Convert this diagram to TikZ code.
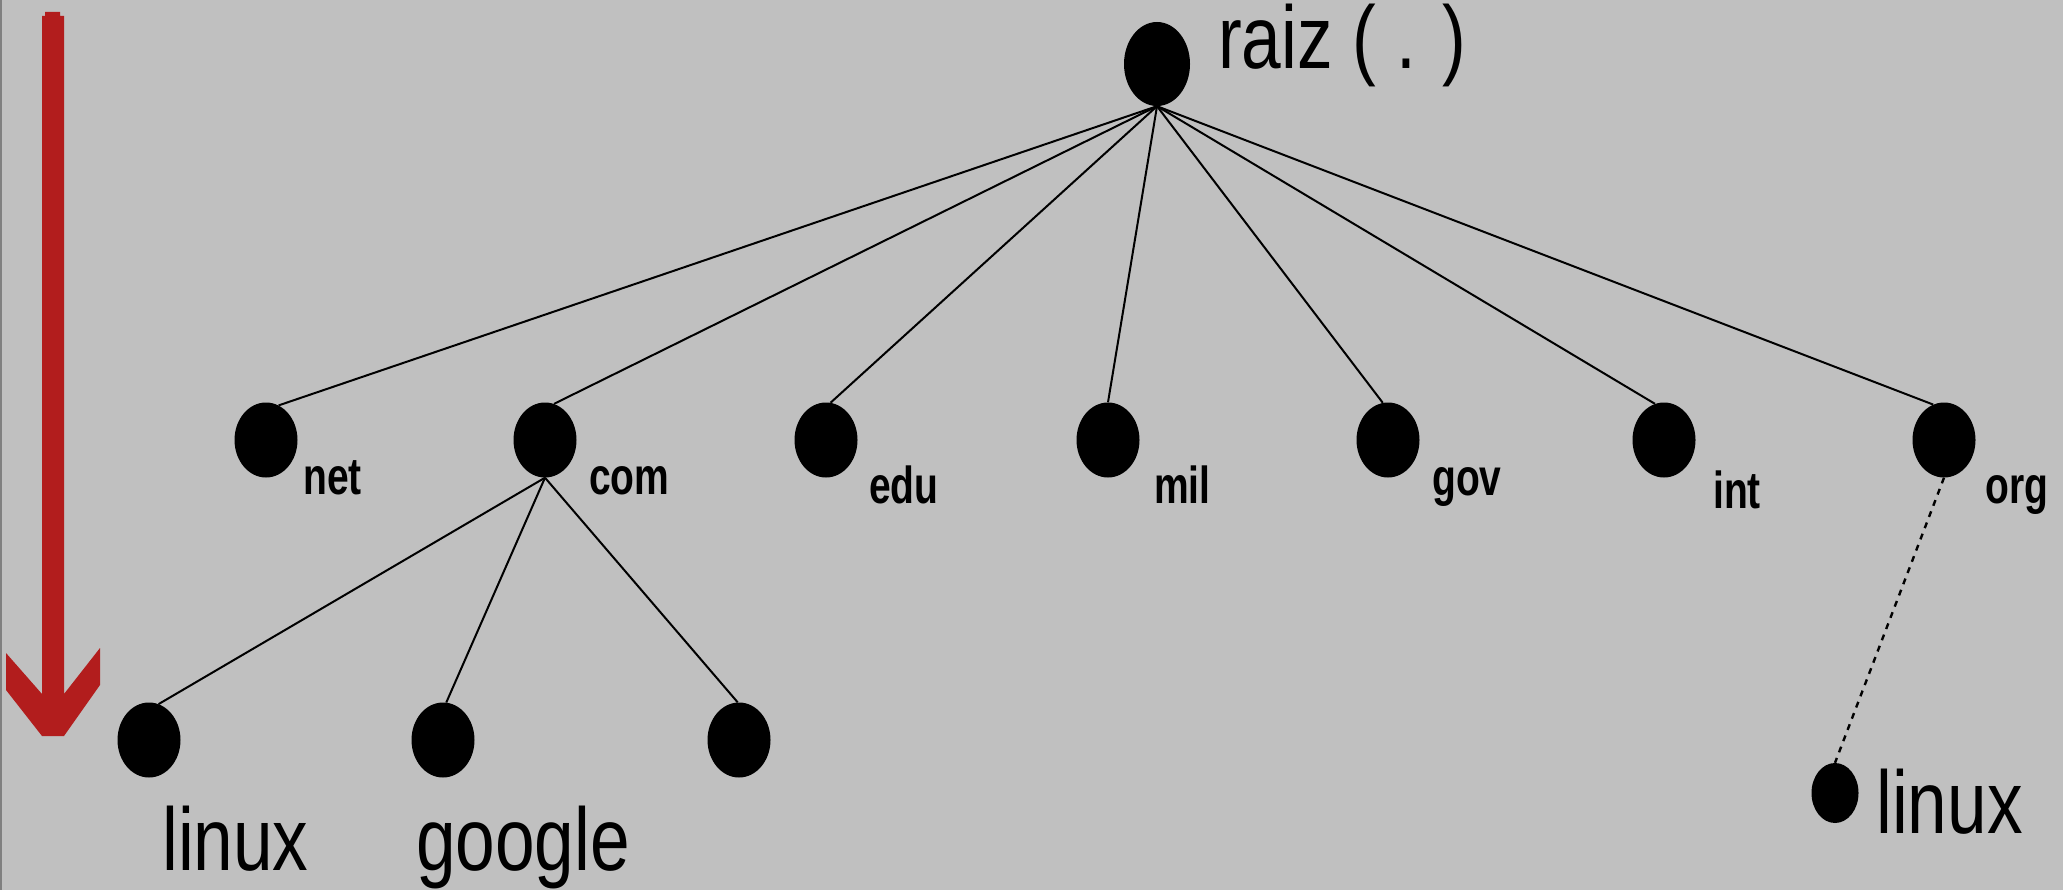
\documentclass[tikz,border=0pt]{standalone}
\usepackage{fontspec}
\setmainfont{Liberation Sans}
\usepackage{graphicx}
\usetikzlibrary{shapes.geometric}
\definecolor{bg}{RGB}{192,192,192}
\definecolor{edgegrey}{RGB}{128,128,128}
\definecolor{arrowred}{RGB}{178,29,29}
\tikzset{
  dot/.style={ellipse, fill=black, inner sep=0pt, minimum width=63pt, minimum height=75pt},
  smalldot/.style={dot, minimum width=47pt, minimum height=60pt},
  rootdot/.style={dot, minimum width=66pt, minimum height=84pt},
  biglabel/.style={anchor=base west, inner sep=0pt, font=\fontsize{89}{100}\selectfont},
  smalllabel/.style={anchor=base west, inner sep=0pt, font=\fontsize{52}{60}\selectfont\bfseries},
  link/.style={line width=2pt},
  dottedlink/.style={line width=2.4pt, dash pattern=on 6pt off 6pt},
}
\newcommand{\bigtxt}[1]{\scalebox{0.8}[1]{#1}}
\newcommand{\smalltxt}[1]{\scalebox{0.75}[1]{#1}}
\begin{document}
\begin{tikzpicture}[x=1pt,y=-1pt]
\fill[bg] (0,0) rectangle (2063,890);
\useasboundingbox (0,0) rectangle (2063,890);
\fill[edgegrey] (0,0) rectangle (2,890);
% red arrow
\fill[arrowred] (45,12) -- (60,12) -- (60,16) -- (64,16) -- (64,694) -- (100,648) -- (100,685) -- (64,736) -- (42,736) -- (6,690) -- (6,653) -- (42,694) -- (42,16) -- (45,16) -- cycle;
% nodes
\node[rootdot] (root) at (1157,64) {};
\node[dot] (net) at (266,440) {};
\node[dot] (com) at (545,440) {};
\node[dot] (edu) at (826,440) {};
\node[dot] (mil) at (1108,440) {};
\node[dot] (gov) at (1388,440) {};
\node[dot] (int) at (1664,440) {};
\node[dot] (org) at (1944,440) {};
\node[dot] (linuxA) at (149,740) {};
\node[dot] (google) at (443,740) {};
\node[dot] (third) at (739,740) {};
\node[smalldot] (linuxB) at (1835,793) {};
% labels
\node[biglabel] (raizlbl) at (1218,69) {\bigtxt{raiz ( . )}};
\node[smalllabel] (netlbl) at (303,494) {\smalltxt{net}};
\node[smalllabel] (comlbl) at (589,494) {\smalltxt{com}};
\node[smalllabel] (edulbl) at (869,503) {\smalltxt{edu}};
\node[smalllabel] (millbl) at (1154,503) {\smalltxt{mil}};
\node[smalllabel] (govlbl) at (1432,495) {\smalltxt{gov}};
\node[smalllabel] (intlbl) at (1713,508) {\smalltxt{int}};
\node[smalllabel] (orglbl) at (1985,503) {\smalltxt{org}};
\node[biglabel] (linuxAlbl) at (162,870) {\bigtxt{linux}};
\node[biglabel] (googlelbl) at (416,870) {\bigtxt{google}};
\node[biglabel] (linuxBlbl) at (1876,833) {\bigtxt{linux}};
% connectors
\draw[link] (root.south) -- (net.70);
\draw[link] (root.south) -- (com.76);
\draw[link] (root.south) -- (edu.83);
\draw[link] (root.south) -- (mil.90);
\draw[link] (root.south) -- (gov.98);
\draw[link] (root.south) -- (int.104);
\draw[link] (root.south) -- (org.107);
\draw[link] (com.south) -- (linuxA.75);
\draw[link] (com.south) -- (google.85);
\draw[link] (com.south) -- (third.92);
\draw[dottedlink] (org.south) -- (linuxB.north);
\end{tikzpicture}
\end{document}
